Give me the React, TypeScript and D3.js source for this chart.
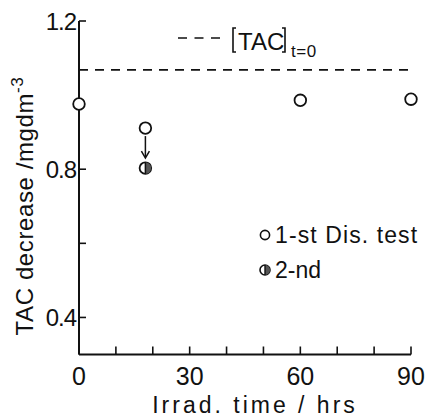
import React from "react";
import * as d3 from "d3";

const firstTimes = [0, 18, 60, 90];
const firstValues = [0.976, 0.911, 0.986, 0.989];
const secondTimes = [18];
const secondValues = [0.803];
const tacInitial = 1.068;
const xTickLabels = [0, 30, 60, 90];
const xMinorTicks = [10, 20, 40, 50, 70, 80];
const yTickLabels = [0.4, 0.8, 1.2];
const yMinorTicks = [0.6];

const W = 435;
const H = 418;
const FONT = "'Liberation Sans', Arial, sans-serif";

export default function App() {
  const x = d3.scaleLinear().domain([0, 90]).range([79, 411]);
  const y = d3.scaleLinear().domain([0.3, 1.2]).range([354.5, 21]);
  const x0 = x(0);
  const yb = y(0.3);
  const r = 5.8;
  const halfPath = (cx: number, cy: number, rr: number) =>
    `M${cx},${cy - rr} A${rr},${rr} 0 0 1 ${cx},${cy + rr} Z`;

  return (
    <svg width={W} height={H} style={{ position: "absolute", left: 0, top: 0, background: "#fff" }}>
      <rect width={W} height={H} fill="#fff" />
      {/* axes */}
      <line x1={x0} y1={y(1.2)} x2={x0} y2={yb} stroke="#111" strokeWidth={2} />
      <line x1={x0} y1={yb} x2={x(90)} y2={yb} stroke="#111" strokeWidth={2} />
      {yTickLabels.map((v) => (
        <g key={"yt" + v}>
          <line x1={x0} x2={x0 + 7} y1={y(v)} y2={y(v)} stroke="#111" strokeWidth={1.6} />
          <text x={x0 - 3} y={y(v)} dy="0.36em" textAnchor="end" fontFamily={FONT} fontSize={24} fill="#111" letterSpacing={-1}>
            {v.toFixed(1)}
          </text>
        </g>
      ))}
      {yMinorTicks.map((v) => (
        <line key={"ym" + v} x1={x0} x2={x0 + 7} y1={y(v)} y2={y(v)} stroke="#111" strokeWidth={1.6} />
      ))}
      {xTickLabels.map((v) => (
        <g key={"xt" + v}>
          <line x1={x(v)} x2={x(v)} y1={yb} y2={yb - 8} stroke="#111" strokeWidth={1.6} />
          <text x={x(v)} y={385} textAnchor="middle" fontFamily={FONT} fontSize={25} fill="#111">
            {v}
          </text>
        </g>
      ))}
      {xMinorTicks.map((v) => (
        <line key={"xm" + v} x1={x(v)} x2={x(v)} y1={yb} y2={yb - 8} stroke="#111" strokeWidth={1.6} />
      ))}
      {/* axis titles */}
      <text x={255} y={413} textAnchor="middle" fontFamily={FONT} fontSize={23} fill="#111" letterSpacing={3}>
        Irrad. time / hrs
      </text>
      <text
        transform={`translate(33,206) rotate(-90)`}
        textAnchor="middle"
        fontFamily={FONT}
        fontSize={24}
        fill="#111"
        letterSpacing={0.6}
      >
        TAC decrease /mgdm
        <tspan dy={-10} fontSize={17}>-3</tspan>
      </text>
      {/* initial TAC dashed line */}
      <line x1={x0} x2={413} y1={y(tacInitial)} y2={y(tacInitial)} stroke="#111" strokeWidth={1.6} strokeDasharray="9,7" />
      {/* legend for dashed line */}
      <line x1={178} x2={224} y1={38} y2={38} stroke="#111" strokeWidth={1.6} strokeDasharray="9,7.5" />
      <path d="M236,28 L233,28 L233,52 L236,52" fill="none" stroke="#111" strokeWidth={1.6} />
      <text x={238} y={50} fontFamily={FONT} fontSize={24} fill="#111">TAC</text>
      <path d="M282,28 L285,28 L285,52 L282,52" fill="none" stroke="#111" strokeWidth={1.6} />
      <text x={291} y={57} fontFamily={FONT} fontSize={17} fill="#111" letterSpacing={0.5}>t=0</text>
      {/* arrow */}
      <line x1={x(18)} x2={x(18)} y1={y(0.911) + 8} y2={y(0.803) - 11} stroke="#111" strokeWidth={1.5} />
      <path
        d={`M${x(18) - 4},${y(0.803) - 17} L${x(18)},${y(0.803) - 10} L${x(18) + 4},${y(0.803) - 17}`}
        fill="none"
        stroke="#111"
        strokeWidth={1.5}
      />
      {/* first test points */}
      {firstTimes.map((t, i) => (
        <circle key={"f" + i} cx={x(t)} cy={y(firstValues[i])} r={r} fill="#fff" stroke="#111" strokeWidth={1.8} />
      ))}
      {/* second test points */}
      {secondTimes.map((t, i) => (
        <g key={"s" + i}>
          <circle cx={x(t)} cy={y(secondValues[i])} r={r} fill="#fff" stroke="#111" strokeWidth={1.8} />
          <path d={halfPath(x(t), y(secondValues[i]), r)} fill="#555" />
          <line x1={x(t)} x2={x(t)} y1={y(secondValues[i]) - r} y2={y(secondValues[i]) + r} stroke="#111" strokeWidth={1.5} />
        </g>
      ))}
      {/* legend */}
      <circle cx={265} cy={235} r={4.6} fill="#fff" stroke="#111" strokeWidth={1.6} />
      <text x={275} y={243} fontFamily={FONT} fontSize={23} fill="#111" letterSpacing={1.1}>1-st Dis. test</text>
      <circle cx={265} cy={270} r={5} fill="#fff" stroke="#111" strokeWidth={1.6} />
      <path d={halfPath(265, 270, 5)} fill="#555" />
      <line x1={265} x2={265} y1={265} y2={275} stroke="#111" strokeWidth={1.4} />
      <text x={275} y={278} fontFamily={FONT} fontSize={23} fill="#111">2-nd</text>
    </svg>
  );
}
